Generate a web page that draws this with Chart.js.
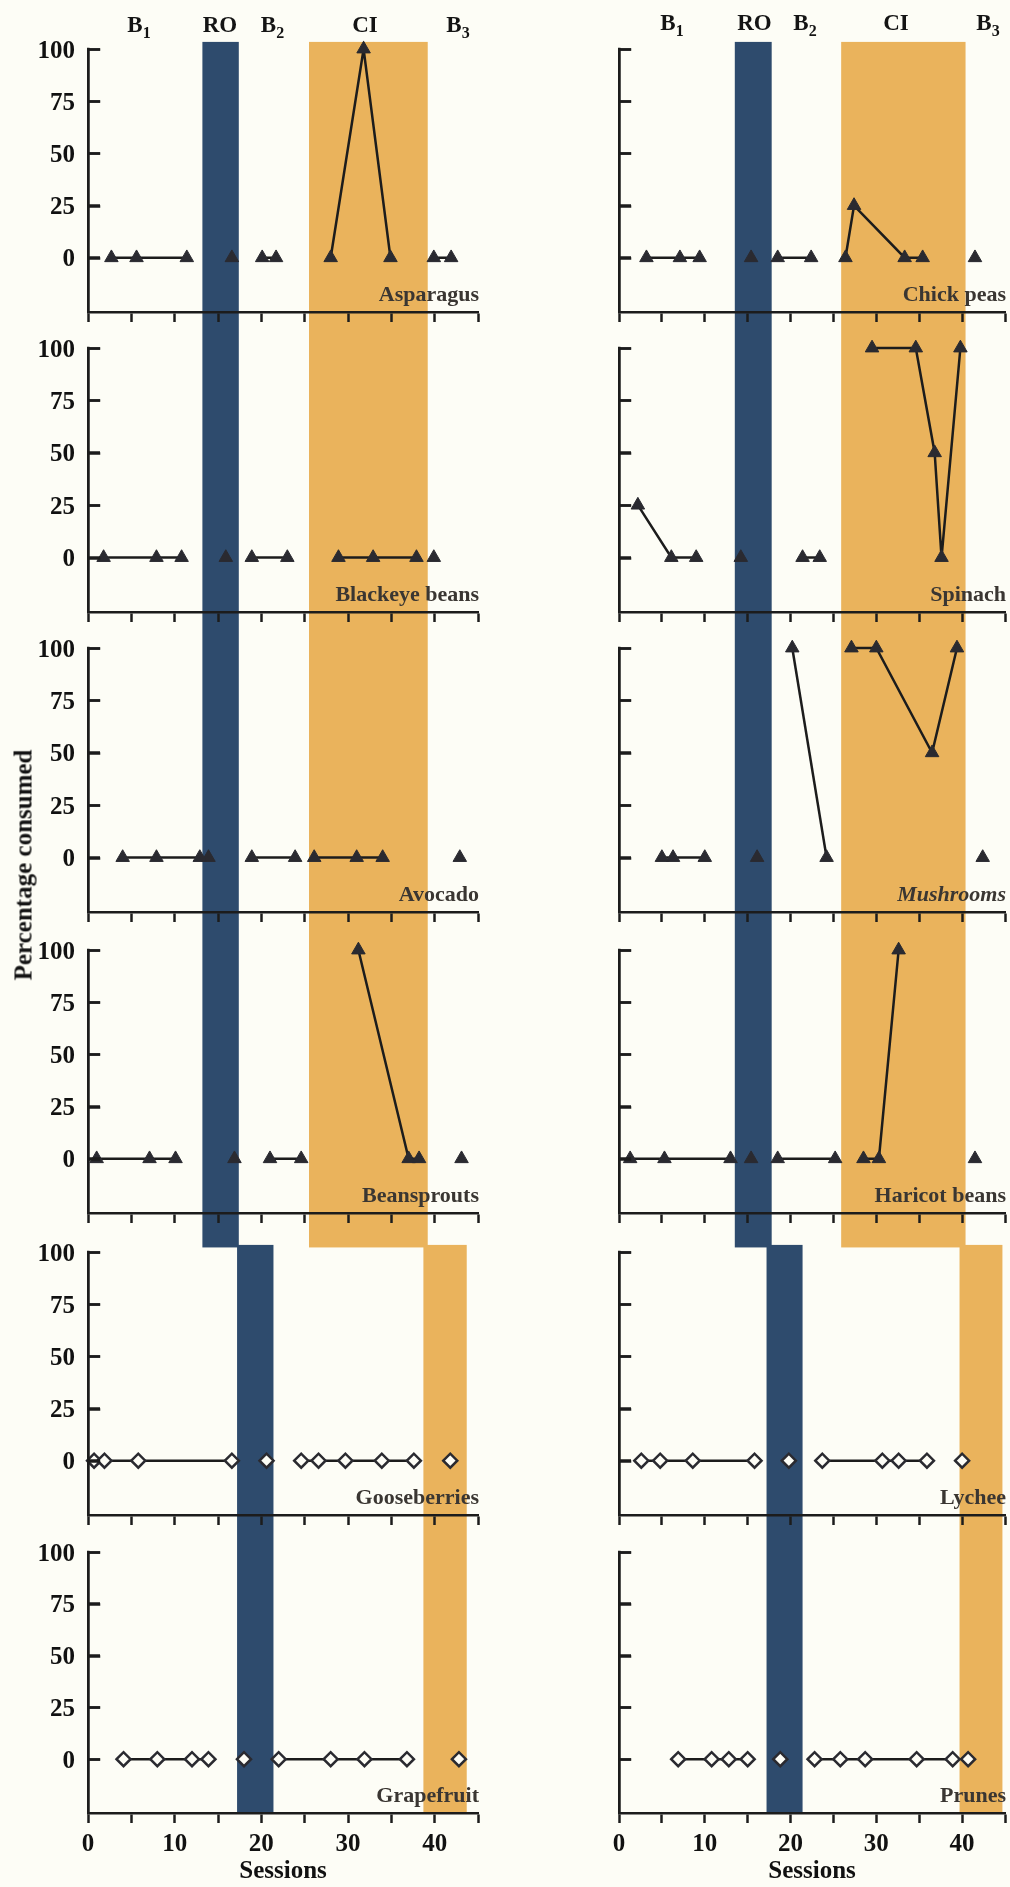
<!DOCTYPE html>
<html>
<head>
<meta charset="utf-8">
<title>Percentage consumed per session</title>
<script src="https://cdn.jsdelivr.net/npm/chart.js@4.4.1/dist/chart.umd.min.js"></script>
<style>
  html, body { margin: 0; padding: 0; background: #fdfdf6; }
  #figure { position: relative; width: 1010px; height: 1887px; overflow: hidden;
            font-family: "Liberation Serif", "Times New Roman", serif; }
  .panel { position: absolute; }
  .panel canvas { position: absolute; left: 0; top: 0; }
  .phase { position: absolute; font-weight: bold; font-size: 23px; line-height: 1;
           color: #141414; transform: translateX(-50%); white-space: nowrap; }
  .phase .sub { font-size: 16px; position: relative; top: 6px; }
  .name { position: absolute; font-weight: bold; font-size: 22px; line-height: 1;
          color: #3a3632; white-space: nowrap; }
  .name.italic { font-style: italic; }
  .ylab { position: absolute; font-weight: bold; font-size: 25px; line-height: 1; color: #111;
          white-space: nowrap; text-align: right; }
  .ytitle { position: absolute; font-weight: bold; font-size: 25px; line-height: 1; color: #141414;
            white-space: nowrap; transform: translate(-50%, -50%) rotate(-90deg); }
</style>
</head>
<body>
<div id="figure"></div>
<script>
// ---- Sessions, percentage consumed and phase of every session, one food per block ----
const asparagusSessions = [2.7, 5.6, 11.4, 16.6, 20.1, 21.7, 28.0, 31.8, 34.9, 39.9, 41.9];
const asparagusValues   = [0, 0, 0, 0, 0, 0, 0, 100, 0, 0, 0];
const asparagusPhases   = ['B1', 'B1', 'B1', 'RO', 'B2', 'B2', 'CI', 'CI', 'CI', 'B3', 'B3'];

const blackeyeSessions = [1.8, 7.9, 10.8, 15.9, 18.9, 23.0, 28.9, 32.9, 37.9, 39.9];
const blackeyeValues   = [0, 0, 0, 0, 0, 0, 0, 0, 0, 0];
const blackeyePhases   = ['B1', 'B1', 'B1', 'RO', 'B2', 'B2', 'CI', 'CI', 'CI', 'B3'];

const avocadoSessions = [4.0, 7.9, 12.9, 13.9, 18.9, 23.9, 26.1, 31.0, 34.0, 42.9];
const avocadoValues   = [0, 0, 0, 0, 0, 0, 0, 0, 0, 0];
const avocadoPhases   = ['B1', 'B1', 'B1', 'RO', 'B2', 'B2', 'CI', 'CI', 'CI', 'B3'];

const beansproutsSessions = [1.0, 7.1, 10.1, 16.9, 21.0, 24.6, 31.2, 37.0, 38.2, 43.1];
const beansproutsValues   = [0, 0, 0, 0, 0, 0, 100, 0, 0, 0];
const beansproutsPhases   = ['B1', 'B1', 'B1', 'RO', 'B2', 'B2', 'CI', 'CI', 'CI', 'B3'];

const gooseberriesSessions = [0.7, 1.9, 5.8, 16.6, 20.6, 24.6, 26.6, 29.7, 33.9, 37.6, 41.8];
const gooseberriesValues   = [0, 0, 0, 0, 0, 0, 0, 0, 0, 0, 0];
const gooseberriesPhases   = ['B1', 'B1', 'B1', 'B1', 'RO', 'B2', 'B2', 'B2', 'B2', 'B2', 'CI'];

const grapefruitSessions = [4.1, 8.0, 12.0, 13.9, 18.0, 22.0, 28.0, 31.9, 36.8, 42.8];
const grapefruitValues   = [0, 0, 0, 0, 0, 0, 0, 0, 0, 0];
const grapefruitPhases   = ['B1', 'B1', 'B1', 'B1', 'RO', 'B2', 'B2', 'B2', 'B2', 'CI'];

const chickPeasSessions = [3.2, 7.1, 9.4, 15.4, 18.5, 22.4, 26.4, 27.4, 33.3, 35.4, 41.5];
const chickPeasValues   = [0, 0, 0, 0, 0, 0, 0, 25, 0, 0, 0];
const chickPeasPhases   = ['B1', 'B1', 'B1', 'RO', 'B2', 'B2', 'CI', 'CI', 'CI', 'CI', 'B3'];

const spinachSessions = [2.2, 6.1, 9.0, 14.2, 21.4, 23.4, 29.5, 34.6, 36.8, 37.6, 39.8];
const spinachValues   = [25, 0, 0, 0, 0, 0, 100, 100, 50, 0, 100];
const spinachPhases   = ['B1', 'B1', 'B1', 'RO', 'B2', 'B2', 'CI', 'CI', 'CI', 'CI', 'CI'];

const mushroomsSessions = [5.0, 6.3, 10.0, 16.1, 20.2, 24.2, 27.1, 30.0, 36.5, 39.4, 42.4];
const mushroomsValues   = [0, 0, 0, 0, 100, 0, 100, 100, 50, 100, 0];
const mushroomsPhases   = ['B1', 'B1', 'B1', 'RO', 'B2', 'B2', 'CI', 'CI', 'CI', 'CI', 'B3'];

const haricotSessions = [1.3, 5.3, 13.0, 15.4, 18.5, 25.2, 28.5, 30.3, 32.6, 41.5];
const haricotValues   = [0, 0, 0, 0, 0, 0, 0, 0, 100, 0];
const haricotPhases   = ['B1', 'B1', 'B1', 'RO', 'B2', 'B2', 'CI', 'CI', 'CI', 'B3'];

const lycheeSessions = [2.6, 4.8, 8.6, 15.8, 19.8, 23.7, 30.7, 32.6, 35.9, 40.0];
const lycheeValues   = [0, 0, 0, 0, 0, 0, 0, 0, 0, 0];
const lycheePhases   = ['B1', 'B1', 'B1', 'B1', 'RO', 'B2', 'B2', 'B2', 'B2', 'CI'];

const prunesSessions = [6.9, 10.8, 12.8, 15.0, 18.8, 22.8, 25.8, 28.7, 34.7, 38.9, 40.7];
const prunesValues   = [0, 0, 0, 0, 0, 0, 0, 0, 0, 0, 0];
const prunesPhases   = ['B1', 'B1', 'B1', 'B1', 'RO', 'B2', 'B2', 'B2', 'B2', 'B2', 'CI'];

// ---- Axis ticks ----
const yTickValues = [0, 25, 50, 75, 100];
const yTickLabels = ['0', '25', '50', '75', '100'];
const xTickValues = [0, 5, 10, 15, 20, 25, 30, 35, 40, 45];
const xTickLabels = ['0', '', '10', '', '20', '', '30', '', '40', ''];

// ---- Session ranges of the RO and CI phases (upper four foods / lower two foods) ----
const leftRoUpper  = [13.2, 17.4];
const leftCiUpper  = [25.5, 39.2];
const leftRoLower  = [17.2, 21.4];
const leftCiLower  = [38.7, 43.7];
const rightRoUpper = [13.5, 17.8];
const rightCiUpper = [25.9, 40.4];
const rightRoLower = [17.2, 21.4];
const rightCiLower = [39.7, 44.7];

// ---- Styling ----
const SERIF = '"Liberation Serif", "Times New Roman", serif';
const INK = '#1c1c1c';
const MARK = '#2a2a30';
const NAVY = '#2e4b6d';
const AMBER = '#eab35c';
const PAPER = '#fdfdf6';

// Vertical layout of the six rows (canvas span, 100-line, x-axis line), in page pixels
const rows = [
  { top: 0,    bottom: 330,  plot: 49,   axis: 312,  bandTop: 103.4, bandBottom: null },
  { top: 330,  bottom: 630,  plot: 348,  axis: 612,  bandTop: null,  bandBottom: null },
  { top: 630,  bottom: 930,  plot: 648,  axis: 912,  bandTop: null,  bandBottom: null },
  { top: 930,  bottom: 1250, plot: 950,  axis: 1213, bandTop: null,  bandBottom: -42.5 },
  { top: 1232, bottom: 1532, plot: 1252, axis: 1515, bandTop: 103.4, bandBottom: null },
  { top: 1532, bottom: 1887, plot: 1552, axis: 1813, bandTop: null,  bandBottom: -26 }
];

const columns = [
  { left: 0,   yAxisWidth: 88,  padRight: 27, yLabels: true,
    upper: [leftRoUpper, leftCiUpper], lower: [leftRoLower, leftCiLower],
    phaseX: [139, 220, 272.5, 365, 458], phaseBaseline: 32 },
  { left: 505, yAxisWidth: 114, padRight: 5,  yLabels: false,
    upper: [rightRoUpper, rightCiUpper], lower: [rightRoLower, rightCiLower],
    phaseX: [672, 754.5, 805, 896, 988], phaseBaseline: 30 }
];

const panels = [
  { col: 0, row: 0, name: 'Asparagus',      s: asparagusSessions,    v: asparagusValues,    p: asparagusPhases },
  { col: 0, row: 1, name: 'Blackeye beans', s: blackeyeSessions,     v: blackeyeValues,     p: blackeyePhases },
  { col: 0, row: 2, name: 'Avocado',        s: avocadoSessions,      v: avocadoValues,      p: avocadoPhases },
  { col: 0, row: 3, name: 'Beansprouts',    s: beansproutsSessions,  v: beansproutsValues,  p: beansproutsPhases },
  { col: 0, row: 4, name: 'Gooseberries',   s: gooseberriesSessions, v: gooseberriesValues, p: gooseberriesPhases },
  { col: 0, row: 5, name: 'Grapefruit',     s: grapefruitSessions,   v: grapefruitValues,   p: grapefruitPhases },
  { col: 1, row: 0, name: 'Chick peas',     s: chickPeasSessions,    v: chickPeasValues,    p: chickPeasPhases },
  { col: 1, row: 1, name: 'Spinach',        s: spinachSessions,      v: spinachValues,      p: spinachPhases },
  { col: 1, row: 2, name: 'Mushrooms',      s: mushroomsSessions,    v: mushroomsValues,    p: mushroomsPhases, italic: true },
  { col: 1, row: 3, name: 'Haricot beans',  s: haricotSessions,      v: haricotValues,      p: haricotPhases },
  { col: 1, row: 4, name: 'Lychee',         s: lycheeSessions,       v: lycheeValues,       p: lycheePhases },
  { col: 1, row: 5, name: 'Prunes',         s: prunesSessions,       v: prunesValues,       p: prunesPhases }
];

const phaseNames = [['B', '1'], ['RO', ''], ['B', '2'], ['CI', ''], ['B', '3']];

// Consecutive sessions of the same phase are joined by a line; phases are not.
function phaseRuns(sessions, values, phases) {
  const runs = [];
  sessions.forEach((s, i) => {
    const last = runs[runs.length - 1];
    const pt = { x: s, y: values[i] };
    if (last && last.phase === phases[i]) last.points.push(pt);
    else runs.push({ phase: phases[i], points: [pt] });
  });
  return runs;
}

// Shaded RO / CI columns under everything, and a crisp percentage axis on top
function panelFrame(ranges, topValue, bottomValue) {
  return {
    id: 'panelFrame',
    beforeDraw(chart) {
      const { ctx, scales: { x, y } } = chart;
      const top = topValue === null ? 0 : y.getPixelForValue(topValue);
      const bottom = bottomValue === null ? chart.height : y.getPixelForValue(bottomValue);
      const colors = [NAVY, AMBER];
      ctx.save();
      ranges.forEach((r, i) => {
        const x0 = x.getPixelForValue(r[0]);
        const x1 = x.getPixelForValue(r[1]);
        ctx.fillStyle = colors[i];
        ctx.fillRect(x0, top, x1 - x0, bottom - top);
      });
      ctx.restore();
    },
    afterDraw(chart) {
      const { ctx, chartArea, scales: { y } } = chart;
      const ax = Math.round(chartArea.left) + 0.25;
      ctx.save();
      ctx.strokeStyle = INK;
      ctx.lineWidth = 2.5;
      ctx.lineCap = 'butt';
      ctx.beginPath();
      ctx.moveTo(ax, chartArea.top - 1.25);
      ctx.lineTo(ax, chartArea.bottom + 1.25);
      yTickValues.forEach(v => {
        const py = Math.round(y.getPixelForValue(v)) + 0.5;
        ctx.moveTo(ax - 1.25, py);
        ctx.lineTo(ax + 12, py);
      });
      ctx.stroke();
      ctx.restore();
    }
  };
}

const figure = document.getElementById('figure');

panels.forEach(panel => {
  const col = columns[panel.col];
  const row = rows[panel.row];
  const isBottom = panel.row === rows.length - 1;
  const lowerPair = panel.row >= 4;
  const width = 505;
  const height = row.bottom - row.top;
  const xAxisHeight = isBottom ? 74 : 12;

  const box = document.createElement('div');
  box.className = 'panel';
  box.style.left = col.left + 'px';
  box.style.top = row.top + 'px';
  box.style.width = width + 'px';
  box.style.height = height + 'px';
  const canvas = document.createElement('canvas');
  canvas.width = width;
  canvas.height = height;
  canvas.style.width = width + 'px';
  canvas.style.height = height + 'px';
  box.appendChild(canvas);
  figure.appendChild(box);

  const datasets = phaseRuns(panel.s, panel.v, panel.p).map(run => ({
    label: run.phase,
    data: run.points,
    borderColor: INK,
    borderWidth: 2.5,
    tension: 0,
    fill: false,
    clip: false,
    pointStyle: lowerPair ? 'rectRot' : 'triangle',
    pointRadius: lowerPair ? 7 : 7.8,
    pointBackgroundColor: lowerPair ? PAPER : MARK,
    pointBorderColor: MARK,
    pointBorderWidth: lowerPair ? 2.5 : 1
  }));

  const chart = new Chart(canvas, {
    type: 'line',
    data: { datasets },
    options: {
      responsive: false,
      animation: false,
      devicePixelRatio: 1,
      events: [],
      layout: {
        autoPadding: false,
        padding: {
          top: row.plot - row.top,
          bottom: height - (row.axis - row.top) - xAxisHeight,
          left: 0,
          right: col.padRight
        }
      },
      plugins: { legend: { display: false }, tooltip: { enabled: false } },
      scales: {
        x: {
          type: 'linear', min: 0, max: 45,
          afterBuildTicks: s => { s.ticks = xTickValues.map(v => ({ value: v })); },
          afterFit: s => { s.height = xAxisHeight; s.paddingLeft = 0; s.paddingRight = 0; },
          grid: { drawOnChartArea: false, drawTicks: true, tickLength: 10, tickWidth: 2.5, tickColor: INK },
          border: { display: true, width: 2.5, color: INK },
          ticks: {
            display: isBottom, autoSkip: false, maxRotation: 0, padding: 7,
            color: '#111', font: { family: SERIF, size: 25, weight: 'bold', lineHeight: 1.2 },
            callback: v => { const i = xTickValues.indexOf(v); return i < 0 ? '' : xTickLabels[i]; }
          },
          title: {
            display: isBottom, text: 'Sessions', color: '#111',
            font: { family: SERIF, size: 25, weight: 'bold', lineHeight: 1.2 },
            padding: { top: 0, bottom: 0 }
          }
        },
        y: {
          type: 'linear', min: -26, max: 100,
          afterBuildTicks: s => { s.ticks = yTickValues.map(v => ({ value: v })); },
          afterFit: s => { s.width = col.yAxisWidth; s.paddingTop = 0; s.paddingBottom = 0; },
          grid: { drawOnChartArea: false, drawTicks: true, tickLength: -12, tickWidth: 2.5, tickColor: INK, z: 1 },
          border: { display: true, width: 2.5, color: INK, z: 1 },
          ticks: { display: false }
        }
      }
    },
    plugins: [panelFrame(lowerPair ? col.lower : col.upper, row.bandTop, row.bandBottom)]
  });

  const area = chart.chartArea;

  // Percentage tick labels on the left-hand column, placed from the y scale
  if (col.yLabels) {
    yTickValues.forEach((v, i) => {
      const lab = document.createElement('div');
      lab.className = 'ylab';
      lab.textContent = yTickLabels[i];
      lab.style.right = (width - (area.left - 13)) + 'px';
      lab.style.top = (chart.scales.y.getPixelForValue(v) - 12.5) + 'px';
      box.appendChild(lab);
    });
  }

  // Food name, right-aligned to the end of the session axis, just above it
  const name = document.createElement('div');
  name.className = 'name' + (panel.italic ? ' italic' : '');
  name.textContent = panel.name;
  name.style.right = (width - area.right - 1) + 'px';
  name.style.top = (area.bottom - 11 - 18.4) + 'px';
  box.appendChild(name);
});

// Phase headings above each column
columns.forEach(col => {
  phaseNames.forEach((pn, i) => {
    const el = document.createElement('div');
    el.className = 'phase';
    el.style.left = col.phaseX[i] + 'px';
    el.style.top = (col.phaseBaseline - 19.3) + 'px';
    el.textContent = pn[0];
    if (pn[1]) {
      const sub = document.createElement('span');
      sub.className = 'sub';
      sub.textContent = pn[1];
      el.appendChild(sub);
    }
    figure.appendChild(el);
  });
});

// Shared y-axis title
const ytitle = document.createElement('div');
ytitle.className = 'ytitle';
ytitle.textContent = 'Percentage consumed';
ytitle.style.left = '23px';
ytitle.style.top = '865px';
figure.appendChild(ytitle);
</script>
</body>
</html>
